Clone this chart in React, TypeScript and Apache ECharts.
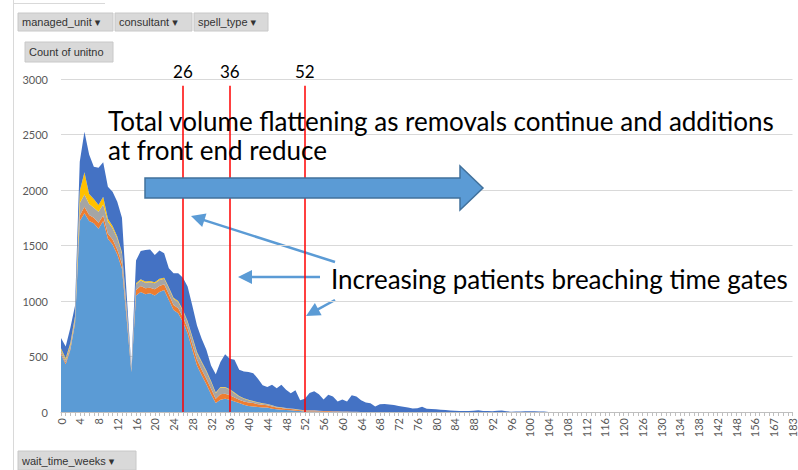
import React, { useEffect, useRef } from "react";
import * as echarts from "echarts";

// wait_time_weeks categories present in the pivot
const weeks: number[] = [
  0, 1, 2, 3, 4, 5, 6, 7, 8, 9, 10, 11, 12, 13, 14, 15, 16, 17, 18, 19, 20,
  21, 22, 23, 24, 25, 26, 27, 28, 29, 30, 31, 32, 33, 34, 35, 36, 37, 38, 39, 40,
  41, 42, 43, 44, 45, 46, 47, 48, 49, 50, 51, 52, 53, 54, 55, 56, 57, 58, 59, 60,
  61, 62, 63, 64, 65, 66, 67, 68, 69, 70, 71, 72, 73, 74, 75, 76, 77, 78, 79, 80,
  81, 82, 83, 84, 85, 86, 87, 88, 89, 90, 91, 92, 93, 94, 95, 96, 97, 98, 99, 100,
  101, 102, 103, 104, 105, 106, 107, 108, 109, 110, 111, 112, 113, 114, 115, 116,
  117, 118, 119, 120, 121, 123, 124, 126, 127, 128, 129, 130, 131, 132, 133, 134,
  135, 136, 137, 138, 139, 140, 141, 142, 143, 145, 147, 148, 150, 152, 154, 156,
  158, 160, 163, 167, 170, 174, 178, 183,
];

const seriesNames = ["Type 1", "Type 2", "Type 3", "Type 4", "Type 5"];

const type1: number[] = [
  520, 430, 560, 800, 1720, 1790, 1720, 1700, 1650, 1720, 1560, 1510, 1420, 1290, 840, 360, 1050, 1080, 1060, 1070,
  1050, 1080, 1100, 1010, 920, 890, 810, 710, 560, 420, 330, 250, 160, 80, 110, 120, 110, 95, 80, 65,
  55, 50, 45, 40, 40, 30, 25, 20, 18, 15, 12, 8, 5, 5, 5, 4, 3, 3, 2, 2,
  2, 1, 1, 0, 0, 0, 0, 0, 0, 0, 0, 0, 0, 0, 0, 0, 0, 0, 0, 0,
  0, 0, 0, 0, 0, 0, 0, 0, 0, 0, 0, 0, 0, 0, 0, 0, 0, 0, 0, 0,
  0, 0, 0, 0, 0,
];

const type2: number[] = [
  15, 15, 15, 15, 50, 60, 55, 50, 55, 50, 45, 45, 45, 45, 40, 10, 50, 55, 55, 50,
  55, 55, 50, 50, 45, 45, 45, 45, 50, 50, 50, 50, 50, 40, 50, 45, 40, 35, 30, 30,
  30, 30, 25, 25, 20, 20, 15, 15, 12, 12, 10, 8, 8, 8, 8, 6, 5, 5, 4, 4,
  3, 3, 2, 2, 1, 1, 0, 0, 0, 0, 0, 0, 0, 0, 0, 0, 0, 0, 0, 0,
  0, 0, 0, 0, 0, 0, 0, 0, 0, 0, 0, 0, 0, 0, 0, 0, 0, 0, 0, 0,
  0, 0, 0, 0, 0,
];

const type3: number[] = [
  25, 25, 30, 30, 110, 110, 100, 90, 100, 100, 110, 100, 100, 90, 60, 20, 50, 50, 50, 50,
  55, 55, 50, 55, 55, 55, 55, 55, 60, 60, 65, 65, 60, 50, 60, 55, 50, 40, 30, 25,
  20, 15, 15, 10, 10, 8, 6, 5, 5, 4, 3, 3, 2, 2, 2, 2, 1, 1, 1, 1,
  0, 0, 0, 0, 0, 0, 0, 0, 0, 0, 0, 0, 0, 0, 0, 0, 0, 0, 0, 0,
  0, 0, 0, 0, 0, 0, 0, 0, 0, 0, 0, 0, 0, 0, 0, 0, 0, 0, 0, 0,
  0, 0, 0, 0, 0,
];

const type4: number[] = [
  15, 15, 20, 20, 110, 200, 90, 80, 60, 70, 25, 20, 15, 15, 10, 5, 10, 10, 10, 10,
  10, 10, 10, 10, 10, 10, 10, 10, 10, 10, 10, 10, 10, 5, 5, 5, 5, 5, 5, 5,
  5, 3, 3, 3, 2, 2, 2, 2, 1, 1, 1, 1, 0, 0, 0, 0, 0, 0, 0, 0,
  0, 0, 0, 0, 0, 0, 0, 0, 0, 0, 0, 0, 0, 0, 0, 0, 0, 0, 0, 0,
  0, 0, 0, 0, 0, 0, 0, 0, 0, 0, 0, 0, 0, 0, 0, 0, 0, 0, 0, 0,
  0, 0, 0, 0, 0,
];

const type5: number[] = [
  92, 105, 135, 95, 265, 365, 355, 290, 335, 310, 290, 310, 315, 310, 110, 15, 205, 255, 285, 285,
  245, 255, 220, 170, 220, 250, 290, 310, 280, 240, 205, 185, 140, 165, 225, 295, 275, 295, 235, 240,
  250, 252, 212, 162, 153, 185, 167, 203, 164, 138, 169, 85, 105, 157, 173, 148, 103, 146, 133, 88,
  107, 91, 147, 138, 104, 84, 78, 50, 70, 72, 68, 63, 55, 48, 40, 32, 33, 48, 30, 26,
  24, 20, 18, 13, 12, 10, 9, 9, 12, 15, 10, 8, 6, 12, 14, 6, 3, 4, 5, 6,
  6, 6, 5, 4, 0,
];

const seriesData = [type1, type2, type3, type4, type5];
const seriesColors = ["#5B9BD5", "#ED7D31", "#A5A5A5", "#FFC000", "#4472C4"];

const gateWeeks = ["26", "36", "52"];
const gateLineTop = 2940;

const yTicks = { min: 0, max: 3000, interval: 500 };

const filterButtons = ["managed_unit ▾", "consultant ▾", "spell_type ▾"];
const valueButton = "Count of unitno";
const axisButton = "wait_time_weeks ▾";

const note1 = "Total volume flattening as removals continue and additions\nat front end reduce";
const note2 = "Increasing patients breaching time gates";

function arrow(x1: number, y1: number, x2: number, y2: number, color: string) {
  const dx = x2 - x1;
  const dy = y2 - y1;
  const len = Math.sqrt(dx * dx + dy * dy);
  const ux = dx / len;
  const uy = dy / len;
  const headL = 14;
  const headW = 7;
  const bx = x2 - ux * headL;
  const by = y2 - uy * headL;
  const px = -uy * headW;
  const py = ux * headW;
  return [
    {
      type: "line",
      shape: { x1, y1, x2: bx + ux * 2, y2: by + uy * 2 },
      style: { stroke: color, lineWidth: 2.5 },
    },
    {
      type: "polygon",
      shape: {
        points: [
          [x2, y2],
          [bx + px, by + py],
          [bx - px, by - py],
        ],
      },
      style: { fill: color },
    },
  ];
}

function button(x: number, y: number, w: number, h: number, text: string) {
  return [
    {
      type: "rect",
      shape: { x, y, width: w, height: h },
      style: { fill: "#D9D9D9", stroke: "#C8C8C8", lineWidth: 1 },
    },
    {
      type: "text",
      style: {
        text,
        x: x + 4,
        y: y + h / 2,
        verticalAlign: "middle",
        fill: "#333333",
        fontSize: 11,
        fontFamily: "Liberation Sans, DejaVu Sans, sans-serif",
      },
    },
  ];
}

export default function App() {
  const ref = useRef<HTMLDivElement>(null);

  useEffect(() => {
    document.body.style.margin = "0";
    if (!ref.current) return;
    const chart = echarts.init(ref.current, undefined, { renderer: "svg" });
    const arrowColor = "#5B9BD5";

    const graphics: any[] = [
      { type: "line", shape: { x1: 13.5, y1: 0, x2: 13.5, y2: 470 }, style: { stroke: "#D9D9D9", lineWidth: 1 } },
      { type: "line", shape: { x1: 13, y1: 3.5, x2: 105, y2: 3.5 }, style: { stroke: "#D9D9D9", lineWidth: 1 } },
      ...button(18, 13, 95, 18, filterButtons[0]),
      ...button(115, 13, 77, 18, filterButtons[1]),
      ...button(194, 13, 74, 18, filterButtons[2]),
      ...button(25, 42, 88, 20, valueButton),
      ...button(18, 451, 118, 19, axisButton),
      {
        type: "polygon",
        shape: {
          points: [
            [145, 178],
            [460, 178],
            [460, 166],
            [483, 188],
            [460, 210],
            [460, 198],
            [145, 198],
          ],
        },
        style: { fill: "#5B9BD5", stroke: "#41719C", lineWidth: 1.5 },
        z: 10,
      },
      {
        type: "text",
        style: {
          text: note1,
          x: 108,
          y: 106,
          verticalAlign: "top",
          lineHeight: 29,
          fill: "#000000",
          fontSize: 26,
          fontFamily: "Lato, sans-serif",
        },
        z: 10,
      },
      {
        type: "text",
        style: {
          text: note2,
          x: 331,
          y: 279,
          verticalAlign: "middle",
          fill: "#000000",
          fontSize: 26,
          fontFamily: "Lato, sans-serif",
        },
        z: 10,
      },
      ...arrow(335, 262, 191, 216, arrowColor),
      ...arrow(320, 277, 238, 277, arrowColor),
      ...arrow(335, 300, 306, 316, arrowColor),
    ];

    const series: any[] = seriesNames.map((name, idx) => ({
      name,
      type: "line",
      stack: "total",
      data: seriesData[idx],
      symbol: "none",
      showSymbol: false,
      lineStyle: { width: 0 },
      areaStyle: { color: seriesColors[idx], opacity: 1 },
      itemStyle: { color: seriesColors[idx] },
      emphasis: { disabled: true },
    }));

    series[series.length - 1].markLine = {
      silent: true,
      symbol: "none",
      animation: false,
      lineStyle: { color: "#FF0000", width: 1.5, type: "solid" },
      label: {
        show: true,
        position: "start",
        distance: 6,
        color: "#000000",
        fontSize: 17,
        fontFamily: "Lato, sans-serif",
        formatter: (p: any) => p.data.name,
      },
      data: gateWeeks.map((w) => [
        { coord: [w, gateLineTop], name: w },
        { coord: [w, 0] },
      ]),
    };

    chart.setOption({
      animation: false,
      backgroundColor: "#FFFFFF",
      grid: { left: 61, right: 5, top: 79, bottom: 58, containLabel: false },
      xAxis: {
        type: "category",
        data: weeks.map(String),
        boundaryGap: false,
        axisLine: { show: true, lineStyle: { color: "#BFBFBF", width: 1 } },
        axisTick: { show: true, interval: 0, length: 4, lineStyle: { color: "#BFBFBF" } },
        axisLabel: {
          interval: 3,
          rotate: 90,
          color: "#595959",
          fontSize: 11,
          fontFamily: "Lato, sans-serif",
          margin: 6,
        },
        splitLine: { show: false },
      },
      yAxis: {
        type: "value",
        min: yTicks.min,
        max: yTicks.max,
        interval: yTicks.interval,
        axisLine: { show: false },
        axisTick: { show: false },
        axisLabel: {
          color: "#595959",
          fontSize: 11,
          fontFamily: "Lato, sans-serif",
          margin: 13,
          formatter: (v: number) => String(v),
        },
        splitLine: { lineStyle: { color: "#D9D9D9", width: 1 } },
      },
      tooltip: { show: false },
      series,
      graphic: graphics,
    });

    return () => chart.dispose();
  }, []);

  return <div ref={ref} style={{ width: 798, height: 470, background: "#fff" }} />;
}
